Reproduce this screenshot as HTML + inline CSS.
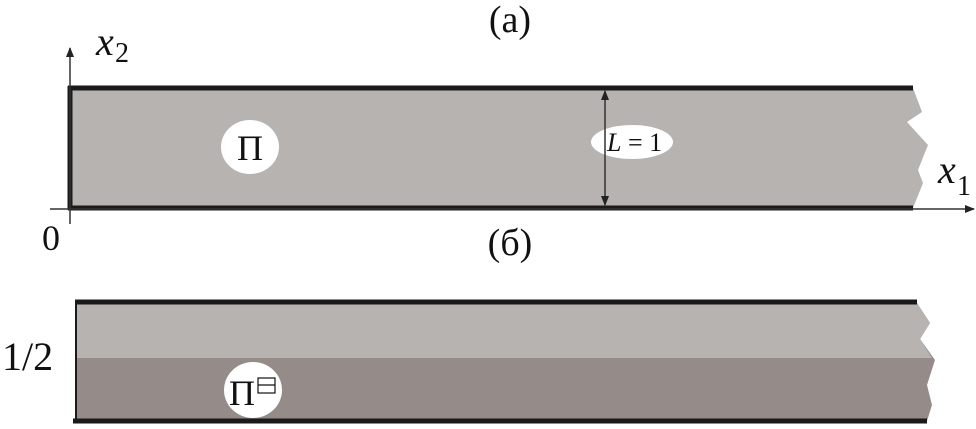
<!DOCTYPE html>
<html><head><style>body{margin:0;background:#fff}svg{display:block}</style></head><body>
<svg width="976" height="429" viewBox="0 0 976 429" xmlns="http://www.w3.org/2000/svg" font-family="Liberation Serif, serif">
<defs><marker id="ar" markerWidth="10" markerHeight="8" refX="9" refY="4" orient="auto" markerUnits="userSpaceOnUse"><path d="M0,0 L10,4 L0,8 z" fill="#222"/></marker></defs>
<text x="510" y="32" font-size="38" text-anchor="middle" fill="#111">(a)</text>
<polygon points="70,88 913,88 922,112 907,122 928,145 918,170 923,183 913,208 70,208" fill="#b6b3b0"/>
<line x1="68" y1="88" x2="913" y2="88" stroke="#1a1a1a" stroke-width="5"/>
<line x1="68" y1="208" x2="913" y2="208" stroke="#1a1a1a" stroke-width="5"/>
<line x1="70" y1="86" x2="70" y2="210" stroke="#1a1a1a" stroke-width="5"/>
<line x1="70" y1="224" x2="70" y2="48" stroke="#333" stroke-width="1.5" marker-end="url(#ar)"/>
<line x1="50" y1="209" x2="974" y2="209" stroke="#333" stroke-width="1.5" marker-end="url(#ar)"/>
<text x="96" y="55" font-size="40" font-style="italic" fill="#111">x</text><text x="115" y="62" font-size="28" fill="#111">2</text>
<text x="938" y="183" font-size="40" font-style="italic" fill="#111">x</text><text x="957" y="195" font-size="28" fill="#111">1</text>
<text x="42" y="250" font-size="36" fill="#111">0</text>
<ellipse cx="250" cy="147" rx="29" ry="27" fill="#fff"/>
<text x="250" y="160" font-size="36" text-anchor="middle" fill="#111">П</text>
<ellipse cx="632" cy="142" rx="41" ry="17" fill="#fff"/>
<line x1="605" y1="150" x2="605" y2="205" stroke="#333" stroke-width="1.5" marker-end="url(#ar)"/>
<line x1="605" y1="150" x2="605" y2="91" stroke="#333" stroke-width="1.5" marker-end="url(#ar)"/>
<text x="607" y="151" font-size="26" fill="#111"><tspan font-style="italic">L</tspan> = 1</text>
<text x="510" y="255" font-size="38" text-anchor="middle" fill="#111">(б)</text>
<polygon points="76,303 917,303 930,323 920,339 935,360 927,385 932,405 927,421 76,421" fill="#958c89"/>
<polygon points="76,303 917,303 930,323 920,339 932,358 76,358" fill="#b6b3b0"/>
<line x1="75" y1="302" x2="917" y2="302" stroke="#1a1a1a" stroke-width="5"/>
<line x1="73" y1="421" x2="927" y2="421" stroke="#1a1a1a" stroke-width="5"/>
<line x1="76" y1="301" x2="76" y2="421" stroke="#1a1a1a" stroke-width="2"/>
<text x="2" y="370" font-size="40" fill="#111">1/2</text>
<ellipse cx="253" cy="390" rx="29" ry="28" fill="#fff"/>
<text x="242" y="405" font-size="36" text-anchor="middle" fill="#111">П</text>
<rect x="258" y="378" width="17" height="15" fill="none" stroke="#111" stroke-width="1.2"/>
<line x1="258" y1="385" x2="275" y2="385" stroke="#111" stroke-width="1.2"/>
</svg>
</body></html>
